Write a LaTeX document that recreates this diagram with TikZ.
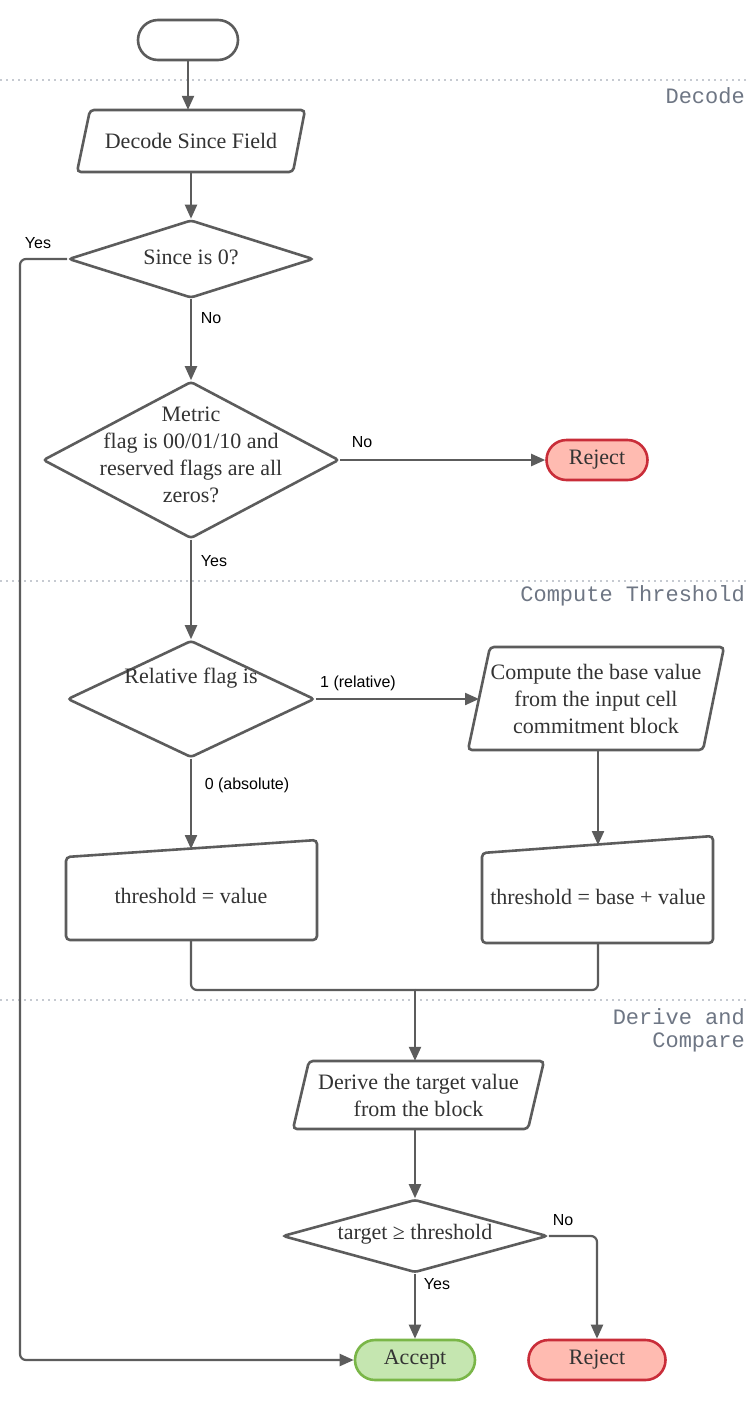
\documentclass[tikz,border=0pt]{standalone}
\usepackage{fontspec}
\setmainfont{Liberation Serif}
\setsansfont{Liberation Sans}
\setmonofont{Liberation Mono}
\usetikzlibrary{shapes.geometric,arrows.meta,calc}
\definecolor{ln}{HTML}{5C5C5C}
\definecolor{txt}{HTML}{333333}
\definecolor{lanec}{HTML}{6E7684}
\definecolor{dotc}{HTML}{C6CAD1}
\definecolor{rejf}{HTML}{FFBBB1}
\definecolor{rejd}{HTML}{C92D39}
\definecolor{accf}{HTML}{C5E6B0}
\definecolor{accd}{HTML}{7AB648}
\begin{document}
\begin{tikzpicture}[x=1pt,y=-1pt,
  base/.style={draw=ln, line width=2.6pt, rounded corners=4pt, text=txt, align=center,
    font=\fontsize{22}{26.5}\selectfont},
  term/.style={base, rectangle, rounded corners=20pt, minimum height=40pt, inner sep=0pt},
  dec/.style={base, diamond, rounded corners=3pt, inner sep=0pt},
  txtn/.style={text=txt, align=center, font=\fontsize{22}{27}\selectfont, inner sep=0pt},
  outline/.style={draw=ln, line width=2.6pt, rounded corners=4pt},
  lbl/.style={font=\sffamily\fontsize{16}{19}\selectfont, text=black, inner sep=0pt},
  lane/.style={font=\ttfamily\fontsize{22}{23}\selectfont, text=lanec, anchor=east, align=right, inner sep=0pt},
  dotline/.style={draw=dotc, line width=1.6pt, dash pattern=on 1.6pt off 4.4pt},
  conn/.style={draw=ln, line width=2.2pt},
  arr/.style={conn, -{Triangle[length=14pt,width=12pt]}},
  rej/.style={term, fill=rejf, draw=rejd},
  acc/.style={term, fill=accf, draw=accd}
]
\useasboundingbox (0,0) rectangle (750,1401);
\fill[white] (0,0) rectangle (750,1401);

% lanes
\draw[dotline] (0,80) -- (750,80);
\draw[dotline] (0,581) -- (750,581);
\draw[dotline] (0,1000) -- (750,1000);
\node[lane] (laneA) at (745,96) {Decode};
\node[lane] (laneB) at (745,596) {Compute Threshold};
\node[lane] (laneC) at (745,1030) {Derive and\\Compare};

% start
\node[term, minimum width=100pt] (start) at (188,40) {};

% decode (parallelogram)
\draw[outline] (77,172) -- (293,172) -- (305,110) -- (90,110) -- cycle;
\node[txtn, minimum width=200pt, minimum height=62pt] (decode) at (191,141) {Decode Since Field};

% decisions
\node[dec, minimum width=245pt, minimum height=78pt] (d1) at (191,259) {};
\node[txtn] (d1t) at (191,257) {Since is 0?};

\node[dec, minimum width=296pt, minimum height=157pt] (d2) at (191,460) {};
\node[txtn] (d2t) at (191,455) {Metric\\flag is 00/01/10 and\\reserved flags are all\\zeros?};

\node[rej, minimum width=101pt] (rej1) at (597,460) {Reject};

\node[dec, minimum width=247pt, minimum height=117pt] (d3) at (191,699) {};
\node[txtn] (d3t) at (191,678) {Relative flag is};

% compute base (parallelogram)
\draw[outline] (468,750) -- (703,750) -- (724,647) -- (490,647) -- cycle;
\node[txtn, minimum width=212pt, minimum height=103pt] (p2) at (596,698.5) {Compute the base value\\from the input cell\\commitment block};
\coordinate (p2in) at (479,699);

% manual inputs
\node[txtn] (mi1) at (191,896) {threshold = value};
\draw[outline] (66,940) -- (317,940) -- (317,840) -- (66,857) -- cycle;
\coordinate (mi1in) at (191,849);
\coordinate (mi1out) at (191,940);

\node[txtn] (mi2) at (598,897) {threshold = base + value};
\draw[outline] (482,943) -- (713,943) -- (713,836) -- (482,853) -- cycle;
\coordinate (mi2in) at (598,845);
\coordinate (mi2out) at (598,943);

\coordinate (jn) at (415,990);

% derive (parallelogram)
\draw[outline] (293,1129) -- (528,1129) -- (544,1061) -- (309,1061) -- cycle;
\node[txtn, minimum width=220pt, minimum height=68pt] (p3) at (418.5,1095) {Derive the target value\\from the block};

\node[dec, minimum width=265pt, minimum height=73pt] (d4) at (415,1236) {};
\node[txtn] (d4t) at (415,1234) {target ≥ threshold};

\node[acc, minimum width=120pt] (accept) at (415,1360) {Accept};
\node[rej, minimum width=137pt] (rej2) at (597,1360) {Reject};

\coordinate (lft) at (20,0);

% connectors
\draw[arr] (start.south) -- (decode.north -| start.south);
\draw[arr] (decode.south) -- (d1.north);
\draw[arr, rounded corners=6pt] (d1.west) -- (d1.west -| lft) |- (accept.west);
\draw[arr] (d1.south) -- (d2.north);
\draw[arr] (d2.east) -- (rej1.west);
\draw[arr] (d2.south) -- (d3.north);
\draw[arr] (d3.east) -- (p2in);
\draw[arr] (d3.south) -- (mi1in);
\draw[arr] (p2.south -| mi2in) -- (mi2in);
\draw[conn, rounded corners=6pt] (mi1out) |- (jn);
\draw[conn, rounded corners=6pt] (mi2out) |- (jn);
\draw[arr] (jn) -- (p3.north -| jn);
\draw[arr] (p3.south -| d4.north) -- (d4.north);
\draw[arr, rounded corners=6pt] (d4.east) -| (rej2.north);
\draw[arr] (d4.south) -- (accept.north);

% edge labels
\node[lbl] (l1) at (38,243) {Yes};
\node[lbl] (l2) at (211,318) {No};
\node[lbl] (l3) at (362,442) {No};
\node[lbl] (l4) at (214,561) {Yes};
\node[lbl] (l5) at (358,683) {1 (relative)};
\node[lbl] (l6) at (247,785) {0 (absolute)};
\node[lbl] (l7) at (563,1220) {No};
\node[lbl] (l8) at (437,1284) {Yes};
\end{tikzpicture}
\end{document}
